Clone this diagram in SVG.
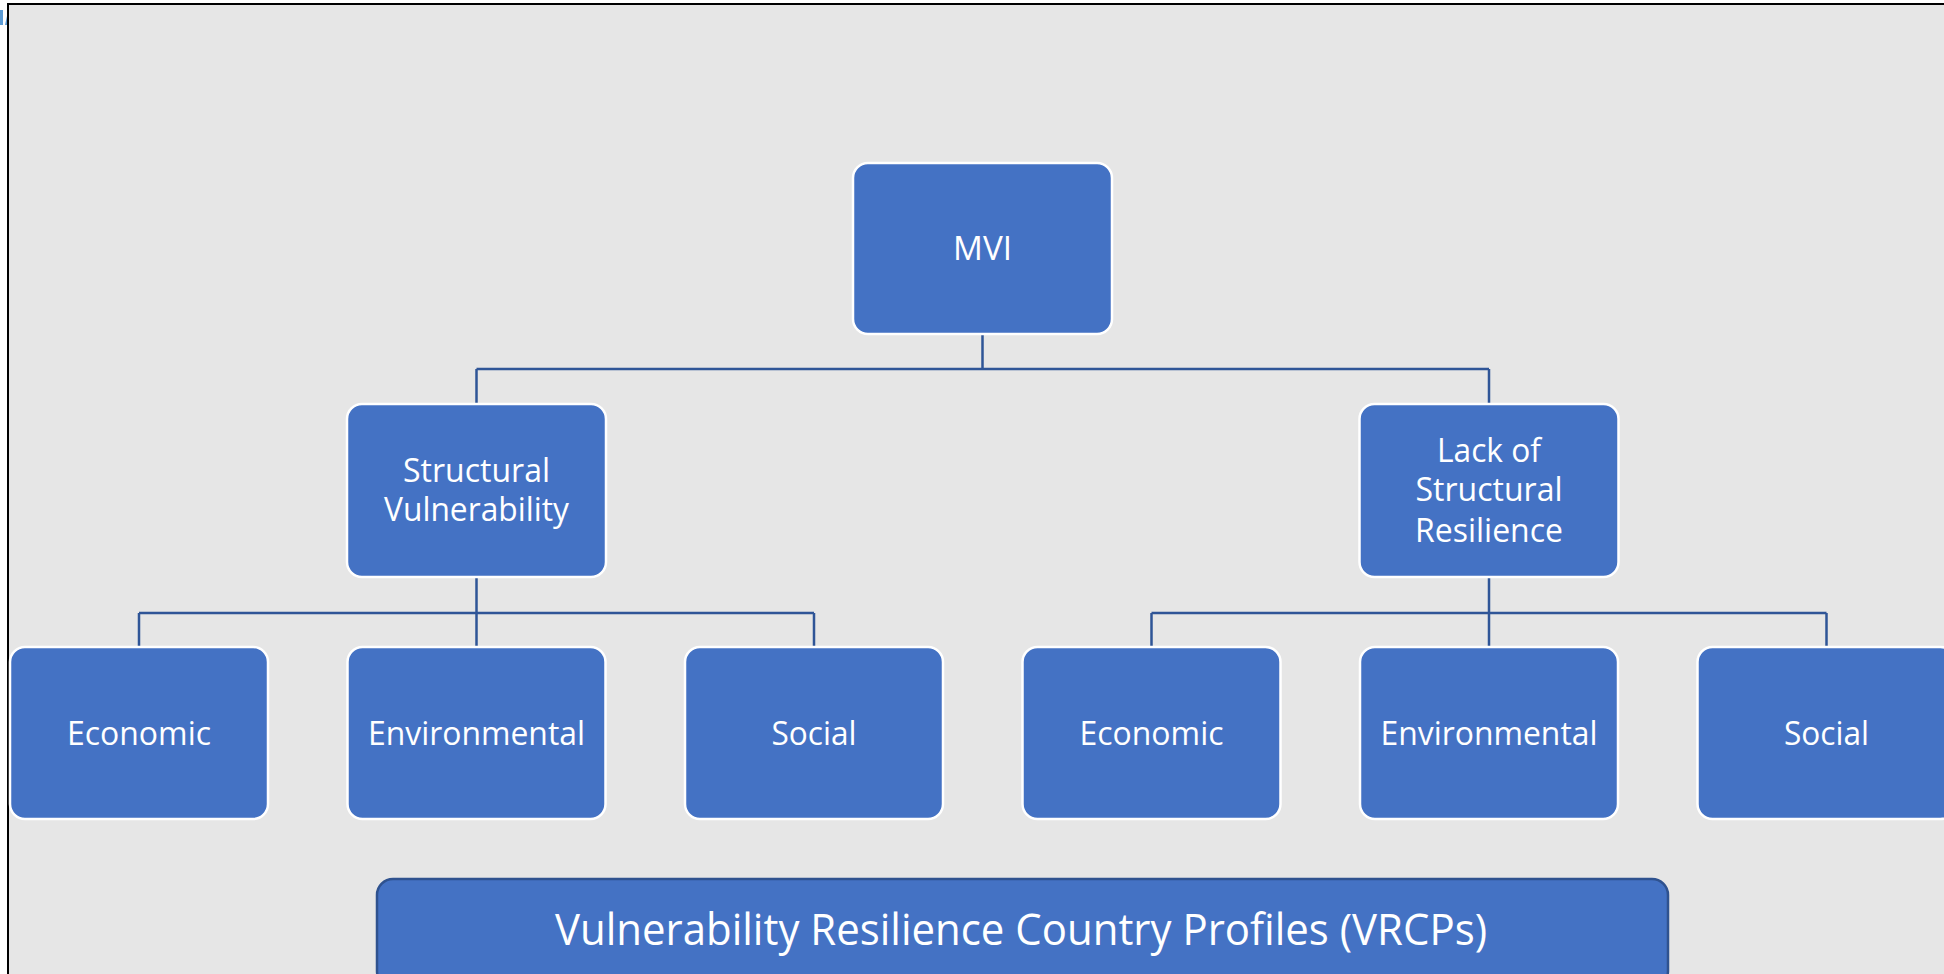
<svg xmlns="http://www.w3.org/2000/svg" width="1944" height="974" viewBox="0 0 1944 974">
  <style>
    .node rect { fill: #4472C4; stroke: #FFFFFF; stroke-width: 2.5; }
    .node text, .banner text { fill: #FFFFFF; font-family: "Open Sans", "Noto Sans", sans-serif; text-anchor: middle; }
    .node text { font-size: 33.5px; }
    .banner rect { fill: #4472C4; stroke: #2F528F; stroke-width: 2.5; }
    .banner text { font-size: 43.5px; }
    .link { fill: none; stroke: #2F5597; stroke-width: 2.5; }
  </style>

  <!-- page and frame -->
  <rect x="0" y="0" width="1944" height="974" fill="#FFFFFF"/>
  <rect x="9" y="5" width="1940" height="975" fill="#E6E6E6"/>
  <path d="M8 980 V4 H1944" fill="none" stroke="#000000" stroke-width="2"/>
  <!-- clipped marker at the left margin -->
  <rect x="0" y="10" width="3" height="15" fill="#5B9BD5"/>
  <path d="M5 25 L7 16 L7 25 Z" fill="#5B9BD5"/>

  <!-- connectors -->
  <g id="connectors">
    <path class="link" d="M982.5 334 V369 M476.5 369 H1489 M476.5 369 V404 M1489 369 V404"/>
    <path class="link" d="M476.5 577 V647 M139 613 H814 M139 613 V647 M814 613 V647"/>
    <path class="link" d="M1489 577 V647 M1151.5 613 H1826.5 M1151.5 613 V647 M1826.5 613 V647"/>
  </g>

  <g id="mvi" class="node">
    <rect x="853" y="163" width="259" height="171" rx="15"/>
    <text x="982.5" y="260" textLength="59" lengthAdjust="spacingAndGlyphs">MVI</text>
  </g>

  <g id="structural-vulnerability" class="node">
    <rect x="347" y="404" width="259" height="173" rx="15"/>
    <text x="476.5" y="482" textLength="147" lengthAdjust="spacingAndGlyphs">Structural</text>
    <text x="476.5" y="521" textLength="185" lengthAdjust="spacingAndGlyphs">Vulnerability</text>
  </g>

  <g id="lack-of-structural-resilience" class="node">
    <rect x="1359.5" y="404" width="259" height="173" rx="15"/>
    <text x="1489" y="462" textLength="104" lengthAdjust="spacingAndGlyphs">Lack of</text>
    <text x="1489" y="501" textLength="147" lengthAdjust="spacingAndGlyphs">Structural</text>
    <text x="1489" y="542" textLength="148" lengthAdjust="spacingAndGlyphs">Resilience</text>
  </g>

  <g id="sv-economic" class="node">
    <rect x="10" y="647" width="258" height="172" rx="15"/>
    <text x="139" y="745" textLength="144" lengthAdjust="spacingAndGlyphs">Economic</text>
  </g>
  <g id="sv-environmental" class="node">
    <rect x="347.5" y="647" width="258" height="172" rx="15"/>
    <text x="476.5" y="745" textLength="217" lengthAdjust="spacingAndGlyphs">Environmental</text>
  </g>
  <g id="sv-social" class="node">
    <rect x="685" y="647" width="258" height="172" rx="15"/>
    <text x="814" y="745" textLength="85" lengthAdjust="spacingAndGlyphs">Social</text>
  </g>

  <g id="lsr-economic" class="node">
    <rect x="1022.5" y="647" width="258" height="172" rx="15"/>
    <text x="1151.5" y="745" textLength="144" lengthAdjust="spacingAndGlyphs">Economic</text>
  </g>
  <g id="lsr-environmental" class="node">
    <rect x="1360" y="647" width="258" height="172" rx="15"/>
    <text x="1489" y="745" textLength="217" lengthAdjust="spacingAndGlyphs">Environmental</text>
  </g>
  <g id="lsr-social" class="node">
    <rect x="1697.5" y="647" width="258" height="172" rx="15"/>
    <text x="1826.5" y="745" textLength="85" lengthAdjust="spacingAndGlyphs">Social</text>
  </g>

  <g id="vrcps" class="banner">
    <rect x="377" y="879" width="1291" height="108" rx="16"/>
    <text x="1021" y="945" textLength="932" lengthAdjust="spacingAndGlyphs">Vulnerability Resilience Country Profiles (VRCPs)</text>
  </g>
</svg>
